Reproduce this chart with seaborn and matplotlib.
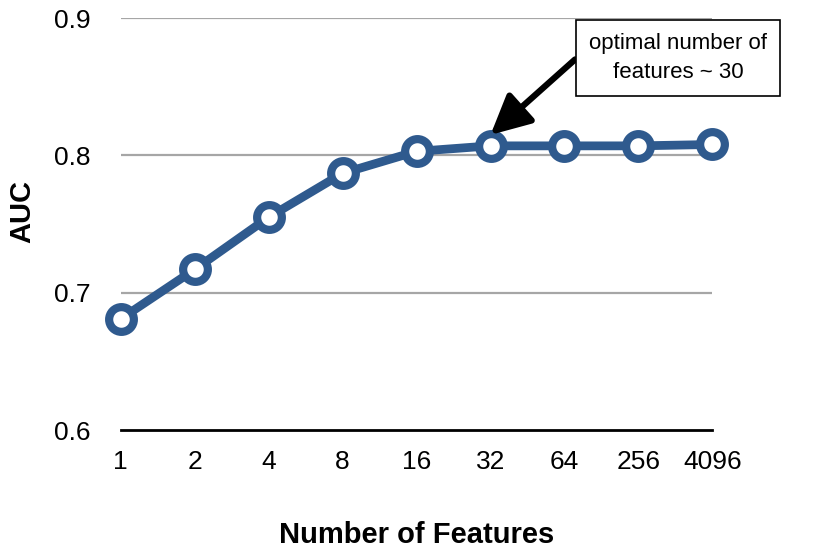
import matplotlib
matplotlib.use("Agg")
import matplotlib.pyplot as plt
import seaborn as sns
import pandas as pd

# datos
n_features = ["1", "2", "4", "8", "16", "32", "64", "256", "4096"]
auc = [0.681, 0.717, 0.755, 0.787, 0.803, 0.807, 0.807, 0.807, 0.808]
y_ticks = [0.6, 0.7, 0.8, 0.9]
nota = "optimal number of\nfeatures ~ 30"

sns.set_style("white")
plt.rcParams['font.family'] = ['Liberation Sans', 'DejaVu Sans']
plt.rcParams['text.color'] = 'black'
plt.rcParams['xtick.color'] = 'black'
plt.rcParams['ytick.color'] = 'black'
plt.rcParams['axes.labelcolor'] = 'black'

df = pd.DataFrame({'features': n_features, 'auc': auc})

fig = plt.figure(figsize=(8.16, 5.5), dpi=100)
ax = fig.add_axes([0.148, 0.218, 0.725, 0.749])

# lineas de grilla
for y in y_ticks[1:]:
    ax.axhline(y, color='#a6a6a6', linewidth=1.6, zorder=0)

azul = '#2f5a8e'
sns.lineplot(data=df, x='features', y='auc', ax=ax, color=azul, linewidth=6.3,
             marker='o', markersize=17.8, markerfacecolor='white',
             markeredgecolor=azul, markeredgewidth=5.9, zorder=3, clip_on=False)

ax.set_xlim(0, len(n_features) - 1)
ax.set_ylim(0.6, 0.9)
ax.set_yticks(y_ticks)
ax.set_yticklabels([f"{v:.1f}" for v in y_ticks])
ax.set_xticks(range(len(n_features)))
ax.set_xticklabels(n_features)
ax.tick_params(axis='both', labelsize=19, length=0)
ax.tick_params(axis='y', pad=22)
ax.tick_params(axis='x', pad=14)

for s in ['top', 'right', 'left']:
    ax.spines[s].set_visible(False)
ax.spines['bottom'].set_color('black')
ax.spines['bottom'].set_linewidth(2)

ax.set_xlabel('Number of Features', fontsize=21, fontweight='bold', labelpad=34)
ax.set_ylabel('AUC', fontsize=21, fontweight='bold')
ax.yaxis.set_label_coords(-0.142, 0.53)

# anotacion con flecha
ax.annotate(nota, xy=(5, auc[5] + 0.008), xycoords='data',
            xytext=(678, 492), textcoords='figure pixels',
            ha='center', va='center', fontsize=16, linespacing=1.5,
            bbox=dict(boxstyle='square,pad=0.6', fc='white', ec='black', lw=1.2),
            arrowprops=dict(arrowstyle='-|>,head_length=1.5,head_width=0.75',
                            color='black', lw=4.5, shrinkA=0, shrinkB=0,
                            relpos=(0, 0.72)))

plt.savefig('out.png', dpi=100)
